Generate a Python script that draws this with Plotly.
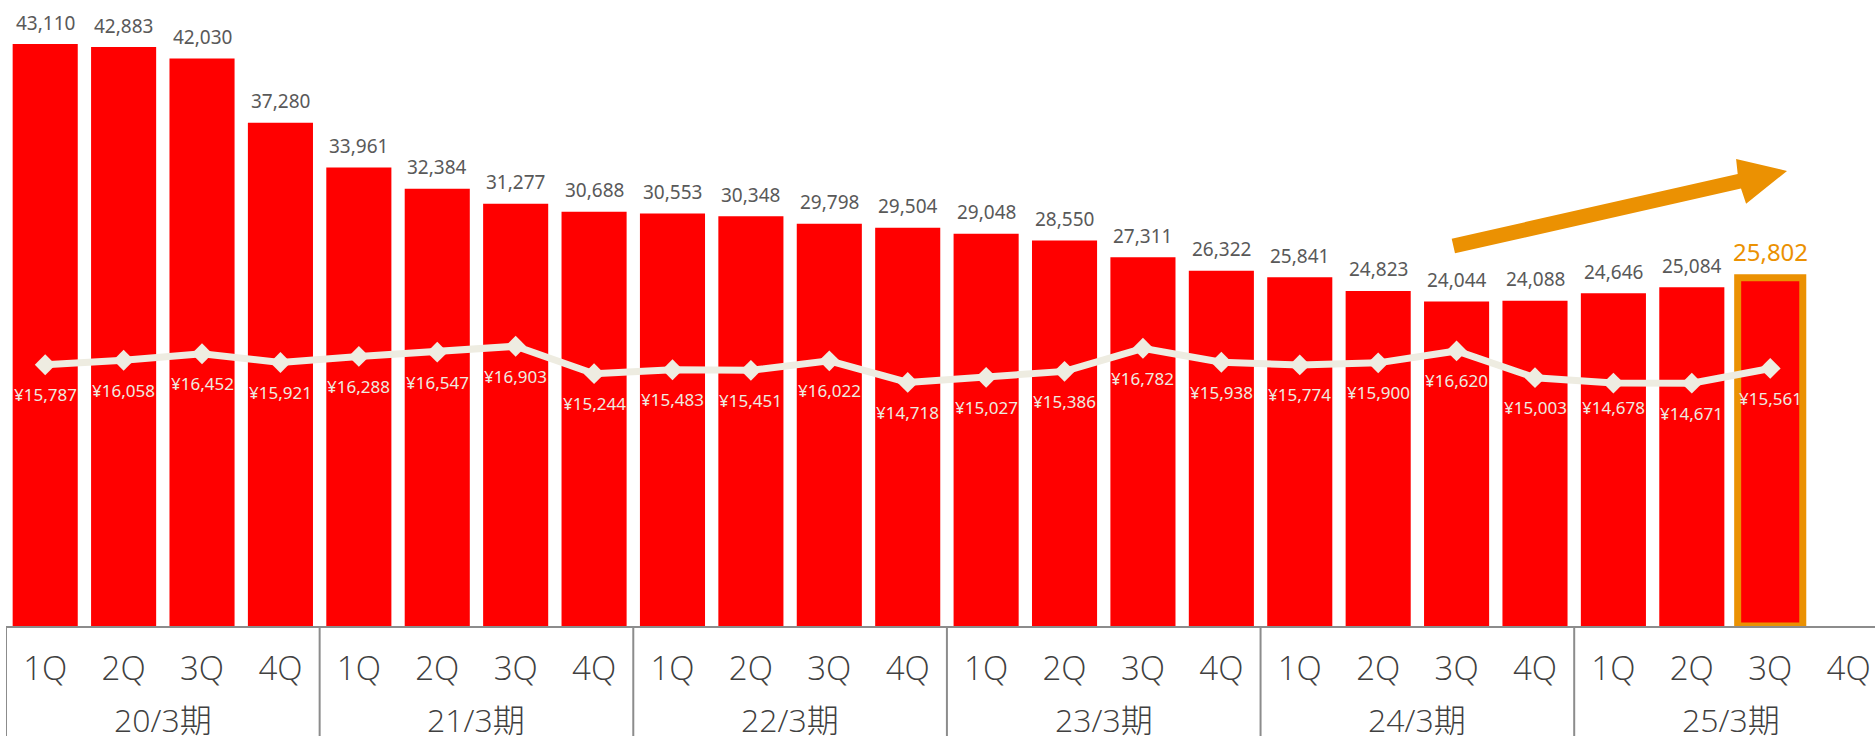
import plotly.graph_objects as go

# Quarterly subscriber counts (bars) and average revenue per user (line)
quarters = ["1Q", "2Q", "3Q", "4Q"] * 6
fiscal_years = ["20/3期", "21/3期", "22/3期", "23/3期", "24/3期", "25/3期"]
members = [
    43110, 42883, 42030, 37280,
    33961, 32384, 31277, 30688,
    30553, 30348, 29798, 29504,
    29048, 28550, 27311, 26322,
    25841, 24823, 24044, 24088,
    24646, 25084, 25802,
]
arpu = [
    15787, 16058, 16452, 15921,
    16288, 16547, 16903, 15244,
    15483, 15451, 16022, 14718,
    15027, 15386, 16782, 15938,
    15774, 15900, 16620, 15003,
    14678, 14671, 15561,
]

# Vertical offsets (px) of the price labels below each marker
arpu_label_dy = [-30] * len(arpu)
arpu_label_dy[20] = -24

W, H = 1875, 736
ML, MR, MT, MB = 6, 0, 0, 110
PLOT_W, PLOT_H = W - ML - MR, H - MT - MB
SLOT_PX = 78.41

RED = "#FF0000"
ORANGE = "#EB9102"
CREAM = "#EEECE1"
GRAY_TXT = "#595959"
AXIS_TXT = "#404040"
RULE = "#8C8C8C"
FONT = "Noto Sans, Noto Sans CJK JP, sans-serif"
AXIS_FONT = "Open Sans, Noto Sans CJK JP, sans-serif"

n = len(members)
xs = list(range(n))
hi = n - 1  # latest quarter is highlighted

fig = go.Figure()

fig.add_trace(go.Bar(
    x=xs, y=members,
    marker=dict(
        color=RED,
        line=dict(
            color=[ORANGE if i == hi else "rgba(0,0,0,0)" for i in xs],
            width=[7 if i == hi else 0 for i in xs],
        ),
    ),
    hoverinfo="skip",
))

fig.add_trace(go.Scatter(
    x=xs, y=arpu, yaxis="y2",
    mode="lines+markers",
    line=dict(color=CREAM, width=7),
    marker=dict(symbol="diamond", size=16, color=CREAM),
    hoverinfo="skip",
))

annotations = []
for i, v in enumerate(members):
    big = i == hi
    annotations.append(dict(
        x=i, y=v, xref="x", yref="y", yanchor="middle",
        yshift=26 if big else 21.5, showarrow=False,
        text=f"{v:,}",
        font=dict(family=FONT, size=24 if big else 19,
                  color=ORANGE if big else GRAY_TXT),
    ))
for i, v in enumerate(arpu):
    annotations.append(dict(
        x=i, y=v, xref="x", yref="y2", yanchor="middle",
        yshift=arpu_label_dy[i], showarrow=False,
        text=f"¥{v:,}",
        font=dict(family=FONT, size=17, color=CREAM),
    ))
for k, fy in enumerate(fiscal_years):
    annotations.append(dict(
        x=4 * k + 1.5, y=0, xref="x", yref="paper", yanchor="middle",
        yshift=-93, showarrow=False, text=fy,
        font=dict(family=AXIS_FONT, size=32, color=AXIS_TXT, weight=300),
    ))

shapes = []
# group separators below the axis
for k in range(6):
    shapes.append(dict(
        type="line", xref="x", yref="paper",
        x0=4 * k - 0.5, x1=4 * k - 0.5, y0=0, y1=-MB / PLOT_H,
        line=dict(color=RULE, width=2),
    ))


def px_to_paper(px, py):
    return (px - ML) / PLOT_W, (MT + PLOT_H - py) / PLOT_H


# trend arrow (polygon given in canvas pixels)
arrow_px = [
    (1451.7, 238.7), (1737.7, 174.0), (1736.1, 158.9), (1787.0, 171.0),
    (1746.1, 203.7), (1741.0, 188.6), (1455.0, 253.3),
]
pts = [px_to_paper(*p) for p in arrow_px]
path = "M " + " L ".join(f"{x:.5f},{y:.5f}" for x, y in pts) + " Z"
shapes.append(dict(type="path", xref="paper", yref="paper", path=path,
                   fillcolor=ORANGE, line=dict(width=0), layer="above"))

fig.update_layout(
    width=W, height=H,
    margin=dict(l=ML, r=MR, t=MT, b=MB, pad=0),
    paper_bgcolor="white", plot_bgcolor="white",
    showlegend=False,
    bargap=0.17,
    xaxis=dict(
        range=[-0.5, -0.5 + PLOT_W / SLOT_PX],
        tickmode="array", tickvals=list(range(24)), ticktext=quarters,
        tickfont=dict(family=AXIS_FONT, size=33, color=AXIS_TXT, weight=300),
        ticks="", ticklabelstandoff=12,
        showline=True, linecolor=RULE, linewidth=2,
        showgrid=False, zeroline=False, layer="below traces",
        fixedrange=True,
    ),
    yaxis=dict(range=[0, 46370], visible=False, showgrid=False,
               zeroline=False, fixedrange=True),
    yaxis2=dict(range=[0, 37826], overlaying="y", visible=False,
                showgrid=False, zeroline=False, fixedrange=True),
    annotations=annotations,
    shapes=shapes,
)

fig.write_html("out.html")
